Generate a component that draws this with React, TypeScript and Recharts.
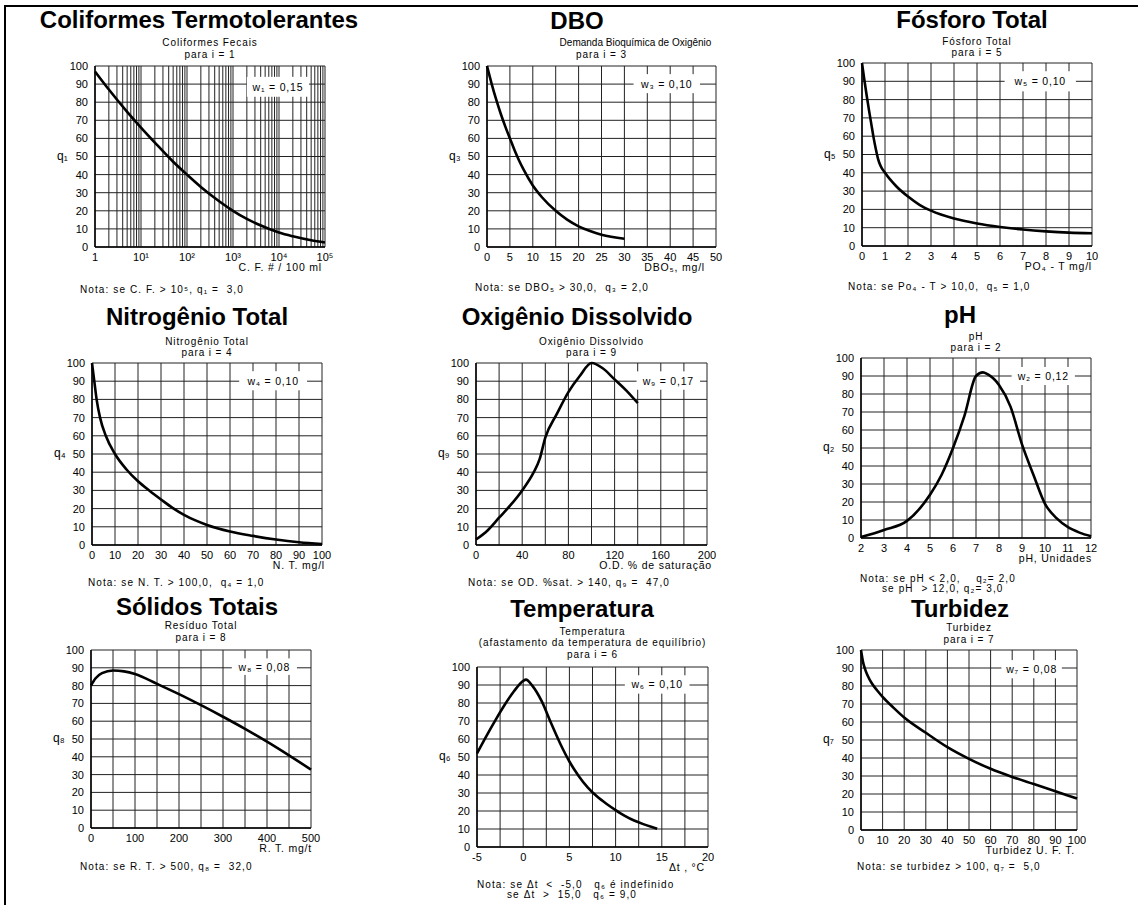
import React from "react";
import { LineChart, Line, XAxis, YAxis, CartesianGrid, ReferenceArea } from "recharts";

const FONT = "Arial, 'Liberation Sans', Helvetica, sans-serif";

const Q_TICKS = [0, 10, 20, 30, 40, 50, 60, 70, 80, 90, 100];

// Coliformes termotolerantes (eixo log)
const cfX = [1, 2, 5, 10, 20, 50, 100, 200, 500, 1000, 2000, 5000, 10000, 20000, 50000, 100000];
const cfQ = [97, 87, 74.7, 66, 57.7, 47.1, 40, 33.2, 25.3, 20, 15.5, 10.9, 8, 5.9, 3.7, 2.5];
const cfGrid = [
  1, 2, 3, 4, 5, 6, 7, 8, 9,
  10, 20, 30, 40, 50, 60, 70, 80, 90,
  100, 200, 300, 400, 500, 600, 700, 800, 900,
  1000, 2000, 3000, 4000, 5000, 6000, 7000, 8000, 9000,
  10000, 20000, 30000, 40000, 50000, 60000, 70000, 80000, 90000,
  100000,
];
const cfLabels = [1, 10, 100, 1000, 10000, 100000];
const cfLabelText = ["1", "10¹", "10²", "10³", "10⁴", "10⁵"];

// DBO
const dboX = [0, 1, 2, 3, 4, 5, 6, 7, 8, 10, 12, 15, 17.5, 20, 22.5, 25, 30];
const dboQ = [100, 90.3, 81.5, 73.6, 66.5, 60, 53.6, 47.8, 42.7, 34, 27.5, 20, 15.1, 11.4, 8.8, 6.8, 4.6];
const dboGrid = [0, 5, 10, 15, 20, 25, 30, 35, 40, 45, 50];

// Fósforo total
const fosX = [0, 0.1, 0.2, 0.3, 0.4, 0.5, 0.6, 0.7, 0.8, 1, 1.5, 2, 2.5, 3, 4, 5, 6, 7, 8, 9, 10];
const fosQ = [100, 91, 82.5, 74.5, 67, 59.5, 53, 47.5, 44, 40, 32.5, 27, 22.5, 19.3, 15, 12.3, 10.4, 9, 8, 7.3, 7];
const fosGrid = [0, 1, 2, 3, 4, 5, 6, 7, 8, 9, 10];

// Nitrogênio total
const ntX = [0, 1, 2, 3.5, 6, 10, 15, 20, 25, 30, 35, 40, 45, 50, 60, 70, 80, 90, 100];
const ntQ = [100, 90, 80, 70, 60, 50, 41.5, 35, 29.8, 25, 20.4, 16.6, 13.5, 11, 7.4, 5, 3, 1.5, 0.5];
const ntGrid = [0, 10, 20, 30, 40, 50, 60, 70, 80, 90, 100];

// Oxigênio dissolvido
const odX = [0, 10, 20, 30, 40, 50, 55, 60, 70, 80, 90, 100, 110, 120, 130, 140];
const odQ = [3, 8, 15, 22, 30, 40, 47, 59, 72, 84, 93, 100, 97, 91, 85, 78];
const odGrid = [0, 20, 40, 60, 80, 100, 120, 140, 160, 180, 200];
const odLabels = [0, 40, 80, 120, 160, 200];

// pH
const phX = [2, 3, 4, 5, 5.5, 6, 6.5, 7, 7.3, 7.5, 8, 8.5, 9, 9.5, 10, 10.5, 11, 11.5, 12];
const phQ = [0.5, 4.5, 9.5, 24, 35, 50, 68, 90, 92, 91, 85, 73, 52, 35, 19, 11, 6, 3, 1];
const phGrid = [2, 3, 4, 5, 6, 7, 8, 9, 10, 11, 12];

// Sólidos totais
const stX = [0, 10, 25, 50, 75, 100, 150, 200, 250, 300, 350, 400, 450, 500];
const stQ = [80, 84, 87, 88.5, 88, 86.5, 81, 75.2, 69, 62.5, 55.7, 48.5, 40.8, 32.8];
const stGrid = [0, 50, 100, 150, 200, 250, 300, 350, 400, 450, 500];
const stLabels = [0, 100, 200, 300, 400, 500];

// Temperatura
const tX = [-5, -4, -3, -2, -1, 0, 0.3, 1, 2, 3, 4, 5, 6, 7, 8, 9, 10, 11, 12, 13, 14, 14.5];
const tQ = [52, 61.5, 70.5, 79, 86.5, 92.3, 93, 89.5, 81, 69, 57.5, 47.5, 39.5, 33, 28, 24, 20.5, 17.3, 14.7, 12.7, 11, 10.2];
const tGrid = [-5, -2.5, 0, 2.5, 5, 7.5, 10, 12.5, 15, 17.5, 20];
const tLabels = [-5, 0, 5, 10, 15, 20];

// Turbidez
const tuX = [0, 1, 2, 3, 5, 7.5, 10, 15, 20, 30, 40, 50, 60, 70, 80, 90, 100];
const tuQ = [100, 93, 89, 86, 81.5, 77.5, 74, 68, 62.5, 54, 46, 39.5, 34, 29.5, 25.5, 21.5, 17.5];
const tuGrid = [0, 10, 20, 30, 40, 50, 60, 70, 80, 90, 100];

type Panel = {
  title: string;
  titleX: number;
  titleY: number;
  subs: string[];
  subY: number[];
  subDx?: number[];
  subLs?: number[];
  plot: { x: number; y: number; w: number; h: number };
  xs: number[];
  qs: number[];
  grid: number[];
  labels: number[];
  labelText?: string[];
  log?: boolean;
  domain: [number, number];
  q: string;
  xLabel: string;
  xLabelDx: number;
  w: string;
  area: [number, number, number, number];
  notes: string[];
  noteX: number[];
  noteY: number[];
};

const panels: Panel[] = [
  {
    title: "Coliformes Termotolerantes", titleX: 199, titleY: 28,
    subs: ["Coliformes Fecais", "para i = 1"], subY: [43, 55],
    plot: { x: 95, y: 66, w: 230, h: 181 },
    xs: cfX, qs: cfQ, grid: cfGrid, labels: cfLabels, labelText: cfLabelText, log: true, domain: [1, 100000],
    q: "q₁", xLabel: "C. F. #  /  100 ml", xLabelDx: -3, w: "w₁ = 0,15", area: [2000, 45000, 83, 94],
    notes: ["Nota: se C. F. > 10⁵, q₁ =  3,0"], noteX: [80], noteY: [290],
  },
  {
    title: "DBO", titleX: 577, titleY: 29,
    subs: ["Demanda Bioquímica de Oxigênio", "para i = 3"], subY: [43, 55], subDx: [34, 0], subLs: [0, 0.9],
    plot: { x: 487, y: 66, w: 229, h: 181 },
    xs: dboX, qs: dboQ, grid: dboGrid, labels: dboGrid, domain: [0, 50],
    q: "q₃", xLabel: "DBO₅, mg/l", xLabelDx: -11, w: "w₃ = 0,10", area: [32, 46.5, 85, 95.5],
    notes: ["Nota: se DBO₅ > 30,0,  q₃ = 2,0"], noteX: [475], noteY: [288],
  },
  {
    title: "Fósforo Total", titleX: 972, titleY: 28,
    subs: ["Fósforo Total", "para i = 5"], subY: [42, 53],
    plot: { x: 862, y: 63, w: 230, h: 183 },
    xs: fosX, qs: fosQ, grid: fosGrid, labels: fosGrid, domain: [0, 10],
    q: "q₅", xLabel: "PO₄ - T   mg/l", xLabelDx: 0, w: "w₅ = 0,10", area: [6.2, 9.3, 84.5, 95.5],
    notes: ["Nota: se Po₄ - T > 10,0,  q₅ = 1,0"], noteX: [848], noteY: [287],
  },
  {
    title: "Nitrogênio Total", titleX: 197, titleY: 325,
    subs: ["Nitrogênio Total", "para i = 4"], subY: [342, 353],
    plot: { x: 92, y: 363, w: 230, h: 182 },
    xs: ntX, qs: ntQ, grid: ntGrid, labels: ntGrid, domain: [0, 100],
    q: "q₄", xLabel: "N. T.  mg/l", xLabelDx: 3, w: "w₄ = 0,10", area: [64, 93.5, 85, 95.5],
    notes: ["Nota: se N. T. > 100,0,  q₄ = 1,0"], noteX: [88], noteY: [583],
  },
  {
    title: "Oxigênio Dissolvido", titleX: 577, titleY: 325,
    subs: ["Oxigênio Dissolvido", "para i = 9"], subY: [342, 353],
    plot: { x: 476, y: 363, w: 231, h: 182 },
    xs: odX, qs: odQ, grid: odGrid, labels: odLabels, domain: [0, 200],
    q: "q₉", xLabel: "O.D. % de saturação", xLabelDx: 5, w: "w₉ = 0,17", area: [139, 194, 85.3, 95.4],
    notes: ["Nota: se OD. %sat. > 140, q₉ =  47,0"], noteX: [468], noteY: [583],
  },
  {
    title: "pH", titleX: 960, titleY: 323,
    subs: ["pH", "para i = 2"], subY: [337, 348],
    plot: { x: 861, y: 358, w: 230, h: 180 },
    xs: phX, qs: phQ, grid: phGrid, labels: phGrid, domain: [2, 12],
    q: "q₂", xLabel: "pH, Unidades", xLabelDx: 1, w: "w₂ = 0,12", area: [8.55, 11.3, 85, 95],
    notes: ["Nota: se pH < 2,0,    q₂= 2,0", "se pH  > 12,0, q₂= 3,0"], noteX: [860, 882], noteY: [579, 589],
  },
  {
    title: "Sólidos Totais", titleX: 197, titleY: 615,
    subs: ["Resíduo Total", "para i = 8"], subY: [626, 638],
    plot: { x: 91, y: 650, w: 220, h: 178 },
    xs: stX, qs: stQ, grid: stGrid, labels: stLabels, domain: [0, 500],
    q: "q₈", xLabel: "R. T. mg/t", xLabelDx: 1, w: "w₈ = 0,08", area: [320, 468, 86, 95.3],
    notes: ["Nota: se R. T. > 500, q₈ =  32,0"], noteX: [80], noteY: [867],
  },
  {
    title: "Temperatura", titleX: 582, titleY: 617,
    subs: ["Temperatura", "(afastamento da temperatura de equilíbrio)", "para i = 6"], subY: [632, 643, 655],
    plot: { x: 477, y: 667, w: 231, h: 180 },
    xs: tX, qs: tQ, grid: tGrid, labels: tLabels, domain: [-5, 20],
    q: "q₆", xLabel: "Δt , °C", xLabelDx: -3, w: "w₆ = 0,10", area: [11, 18, 85.2, 95.4],
    notes: ["Nota: se Δt  <  -5,0   q₆ é indefinido", "se Δt  >  15,0   q₆ = 9,0"], noteX: [477, 507], noteY: [885, 895],
  },
  {
    title: "Turbidez", titleX: 960, titleY: 617,
    subs: ["Turbidez", "para i = 7"], subY: [628, 640],
    plot: { x: 861, y: 650, w: 216, h: 180 },
    xs: tuX, qs: tuQ, grid: tuGrid, labels: tuGrid, domain: [0, 100],
    q: "q₇", xLabel: "Turbidez U. F. T.", xLabelDx: -2, w: "w₇ = 0,08", area: [65, 93, 84.3, 94.4],
    notes: ["Nota: se turbidez > 100, q₇ =  5,0"], noteX: [857], noteY: [867],
  },
];

const L = 50;
const T = 6;
const R = 10;
const B = 34;

const smallText: React.CSSProperties = {
  position: "absolute",
  fontFamily: FONT,
  fontSize: 10,
  lineHeight: "12px",
  height: 12,
  color: "#000",
  whiteSpace: "pre",
};

function Chart({ p }: { p: Panel }) {
  const data = p.xs.map((x, i) => ({ x, q: p.qs[i] }));

  const renderTick = (props: any) => {
    const { x, y, payload } = props;
    const idx = p.labels.indexOf(payload.value);
    if (idx < 0) return <g />;
    const txt = p.labelText ? p.labelText[idx] : String(payload.value);
    return (
      <text x={x} y={y} dy={10} textAnchor="middle" fontSize={11} fontFamily={FONT} fill="#000">
        {txt}
      </text>
    );
  };

  const renderBox = (props: any) => {
    const { x, y, width, height } = props;
    return (
      <g>
        <rect x={x} y={y} width={width} height={height} fill="#fff" />
        <text
          x={x + width / 2}
          y={y + height / 2 + 4}
          textAnchor="middle"
          fontSize={10.5}
          letterSpacing={0.8}
          fontFamily={FONT}
          fill="#000"
        >
          {p.w}
        </text>
      </g>
    );
  };

  const xLabel = (lp: any) => {
    const vb = lp && lp.viewBox;
    if (!vb) return null;
    return (
      <text
        x={vb.x + vb.width + p.xLabelDx}
        y={vb.y + 24}
        textAnchor="end"
        fontSize={10.5}
        letterSpacing={0.8}
        fontFamily={FONT}
        fill="#000"
      >
        {p.xLabel}
      </text>
    );
  };

  const yLabel = (lp: any) => {
    const vb = lp && lp.viewBox;
    if (!vb) return null;
    return (
      <text x={vb.x + vb.width - 38} y={vb.y + vb.height / 2 + 3} fontSize={12} fontFamily={FONT} fill="#000">
        {p.q}
      </text>
    );
  };

  return (
    <div style={{ position: "absolute", left: p.plot.x - L, top: p.plot.y - T }}>
      <LineChart
        width={p.plot.w + L + R}
        height={p.plot.h + T + B}
        data={data}
        margin={{ top: T, right: R, bottom: 0, left: 0 }}
      >
        <CartesianGrid stroke="#222" strokeWidth={1} />
        <XAxis
          dataKey="x"
          type="number"
          scale={p.log ? "log" : "auto"}
          domain={p.domain}
          ticks={p.grid}
          interval={0}
          tick={renderTick}
          tickLine={false}
          tickSize={0}
          tickMargin={4}
          height={B}
          axisLine={{ stroke: "#000", strokeWidth: 1.5 }}
          label={xLabel}
        />
        <YAxis
          type="number"
          domain={[0, 100]}
          ticks={Q_TICKS}
          interval={0}
          width={L}
          tickLine={false}
          tickSize={0}
          tickMargin={7}
          axisLine={{ stroke: "#000", strokeWidth: 1.5 }}
          tick={{ fontSize: 11, fill: "#000", fontFamily: FONT }}
          label={yLabel}
        />
        <ReferenceArea x1={p.area[0]} x2={p.area[1]} y1={p.area[2]} y2={p.area[3]} shape={renderBox} />
        <Line
          dataKey="q"
          type="monotone"
          stroke="#000"
          strokeWidth={2.6}
          dot={false}
          activeDot={false}
          isAnimationActive={false}
        />
      </LineChart>
    </div>
  );
}

function Texts({ p }: { p: Panel }) {
  const cx = p.plot.x + p.plot.w / 2;
  return (
    <>
      <div
        style={{
          position: "absolute",
          left: p.titleX - 250,
          width: 500,
          top: p.titleY - 19,
          height: 22,
          textAlign: "center",
          fontFamily: FONT,
          fontWeight: 700,
          fontSize: 24,
          lineHeight: "22px",
          color: "#000",
        }}
      >
        {p.title}
      </div>
      {p.subs.map((s, i) => (
        <div
          key={"s" + i}
          style={{
            ...smallText,
            left: cx + (p.subDx ? p.subDx[i] : 0) - 200,
            width: 400,
            textAlign: "center",
            top: p.subY[i] - 6,
            letterSpacing: p.subLs ? p.subLs[i] : 0.9,
          }}
        >
          {s}
        </div>
      ))}
      {p.notes.map((n, i) => (
        <div key={"n" + i} style={{ ...smallText, left: p.noteX[i], top: p.noteY[i] - 6, letterSpacing: 1.1 }}>
          {n}
        </div>
      ))}
    </>
  );
}

export default function App() {
  return (
    <div
      style={{
        position: "absolute",
        left: 0,
        top: 0,
        width: 1138,
        height: 905,
        background: "#fff",
        overflow: "hidden",
      }}
    >
      <div style={{ position: "absolute", left: 4, top: 5, width: 1134, height: 0, borderTop: "2px solid #000" }} />
      <div style={{ position: "absolute", left: 4, top: 5, width: 0, height: 900, borderLeft: "2px solid #000" }} />
      {panels.map((p, i) => (
        <React.Fragment key={i}>
          <Chart p={p} />
          <Texts p={p} />
        </React.Fragment>
      ))}
    </div>
  );
}
